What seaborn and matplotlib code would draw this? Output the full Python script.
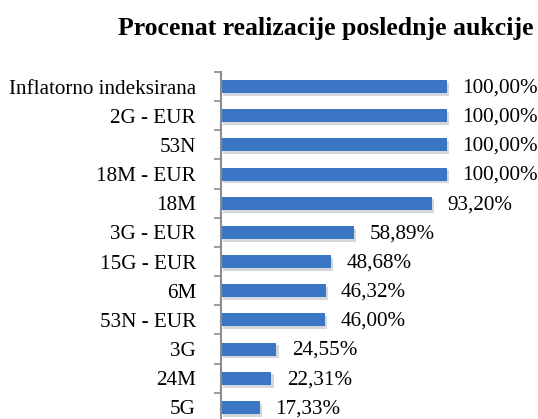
import matplotlib
matplotlib.use("Agg")
import matplotlib.pyplot as plt
import seaborn as sns
import pandas as pd
import numpy as np
from matplotlib.ticker import FixedLocator
import matplotlib.patheffects as pe

categories = ["Inflatorno indeksirana", "2G - EUR", "53N", "18M - EUR", "18M",
              "3G - EUR", "15G - EUR", "6M", "53N - EUR", "3G", "24M", "5G"]
values = [100.00, 100.00, 100.00, 100.00, 93.20, 58.89, 48.68, 46.32, 46.00,
          24.55, 22.31, 17.33]
title = "Procenat realizacije poslednje aukcije"

df = pd.DataFrame({"cat": categories, "val": values})

sns.set_theme(style="white")
plt.rcParams['font.family'] = ['Liberation Serif', 'DejaVu Serif']

W, H = 538, 419
fig = plt.figure(figsize=(W / 100, H / 100), dpi=100)
ax_left = 221 / W
ax_top = 1 - 72 / H
ax = fig.add_axes([ax_left, 0.0, 1 - ax_left, ax_top])

sns.barplot(data=df, x="val", y="cat", orient="h", color="#3A76C4",
            width=0.45, ax=ax, saturation=1, linewidth=0)
for p in ax.patches:
    p.set_path_effects([pe.SimplePatchShadow(offset=(1.5, -2), alpha=0.18), pe.Normal()])

px_per_unit = 226 / 100
ax.set_xlim(0, (W - 221) / px_per_unit)
ybot = 11.5 - 3 / 29.2
ax.set_ylim(ybot, -0.5)

for i, v in enumerate(values):
    ax.annotate(f"{v:.2f}%".replace(".", ","), xy=(v, i), xytext=(11, -1),
                textcoords="offset points", va="center", ha="left",
                fontsize=15.2, color="#000000")

for s in ["top", "right", "bottom"]:
    ax.spines[s].set_visible(False)
ax.spines["left"].set_color("#8C8C8C")
ax.spines["left"].set_linewidth(1.5)
ax.set_xticks([])
ax.set_xlabel("")
ax.set_ylabel("")
ax.tick_params(axis="y", which="major", length=0, pad=18, labelsize=15.2, labelcolor="#000000")
ax.yaxis.set_minor_locator(FixedLocator(np.arange(-0.5, 12, 1.0)))
ax.tick_params(axis="y", which="minor", length=5, width=1.2, color="#8C8C8C", left=True)

fig.text(326 / W, 1 - 28 / H, title, ha="center", va="center",
         fontsize=18.5, fontweight="bold", color="#000000")

fig.savefig("out.png", dpi=100)
